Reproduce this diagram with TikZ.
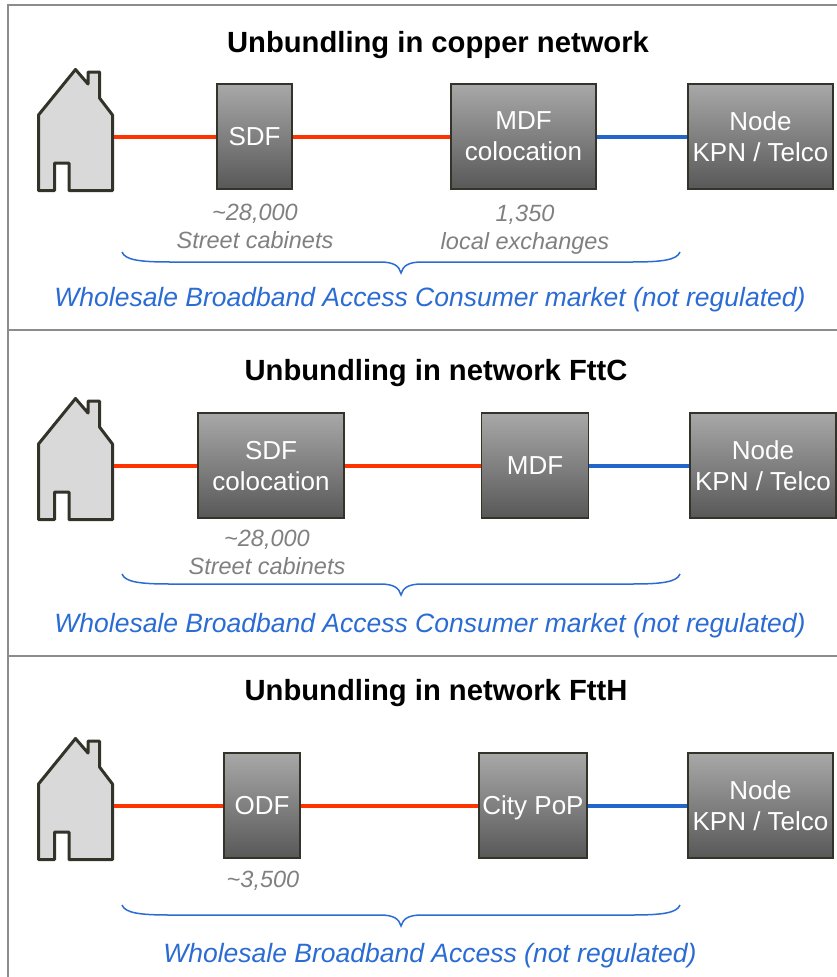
\documentclass[tikz,border=0pt]{standalone}
\usepackage{fontspec}
\setmainfont{Liberation Sans}
\definecolor{redln}{HTML}{FF3300}
\definecolor{blueln}{HTML}{2266CC}
\definecolor{bluetx}{HTML}{2B6CD4}
\definecolor{graytx}{HTML}{808080}
\definecolor{framec}{HTML}{8C8C8C}
\definecolor{boxedge}{HTML}{33332A}
\definecolor{boxtop}{HTML}{A8A8A8}
\definecolor{boxbot}{HTML}{585858}
\definecolor{housefill}{HTML}{D9D9D9}
\tikzset{
  box/.style={draw=boxedge, line width=1.5pt, top color=boxtop, bottom color=boxbot,
    text=white, font=\fontsize{26}{31}\selectfont, align=center, inner sep=0pt,
    minimum height=105pt, text depth=0pt},
  hnode/.style={draw=none, minimum width=77pt, minimum height=2pt, inner sep=0pt},
  ttl/.style={font=\bfseries\fontsize{29.2}{34}\selectfont, anchor=base, inner sep=0pt},
  graylbl/.style={font=\itshape\fontsize{23.5}{28}\selectfont, text=graytx, align=center, inner sep=0pt, text depth=0pt},
  bluelbl/.style={font=\itshape\fontsize{26.5}{31}\selectfont, text=bluetx, anchor=base, inner sep=0pt},
  redconn/.style={draw=redln, line width=4pt},
  blueconn/.style={draw=blueln, line width=4pt},
  framel/.style={draw=framec, line width=2pt},
  bracel/.style={draw=bluetx, line width=1.5pt},
  house/.pic={\draw[line width=3pt, draw=boxedge, fill=housefill, line join=round]
    (1.5,122.5) -- (1.5,47) -- (38.5,1.5) -- (51,16) -- (51,4) -- (62.5,4) -- (62.5,30)
    -- (75.5,47) -- (75.5,122.5) -- (32,122.5) -- (32,95) -- (17.5,95) -- (17.5,122.5) -- cycle;},
  brc/.pic={\draw[bracel] (0,0) .. controls (3,8) and (18,10) .. (48,10) -- (258,10)
    .. controls (272,10) and (277,14) .. (279,21) .. controls (281,14) and (286,10) .. (300,10)
    -- (510,10) .. controls (540,10) and (555,8) .. (558,0);}
}
\begin{document}
\begin{tikzpicture}[x=1pt,y=-1pt]
\useasboundingbox[fill=white] (0,0) rectangle (837,977);
% frame
\draw[framel] (8,977) -- (8,5) -- (837,5);
\draw[framel] (8,330) -- (837,330);
\draw[framel] (8,656) -- (837,656);

% ---------- panel 1 ----------
\node[ttl] (t1) at (438,52) {Unbundling in copper network};
\pic at (37,68) {house};
\node[hnode] (house1) at (75.5,136.5) {};
\node[box, minimum width=75pt] (sdf1) at (254.5,136.5) {SDF};
\node[box, minimum width=145pt] (mdf1) at (523.5,136.5) {MDF\\colocation};
\node[box, minimum width=145pt] (node1) at (760.5,136.5) {Node\\KPN / Telco};
\draw[redconn] (house1) -- (sdf1);
\draw[redconn] (sdf1) -- (mdf1);
\draw[blueconn] (mdf1) -- (node1);
\node[graylbl] (l1a) at (255,226.5) {\textasciitilde28,000\\Street cabinets};
\node[graylbl] (l1b) at (525,227.5) {1,350\\local exchanges};
\pic at (122,252) {brc};
\node[bluelbl] (b1) at (430,306) {Wholesale Broadband Access Consumer market (not regulated)};

% ---------- panel 2 ----------
\node[ttl] (t2) at (436,380) {Unbundling in network FttC};
\pic at (37,397) {house};
\node[hnode] (house2) at (75.5,465.5) {};
\node[box, minimum width=146pt] (sdf2) at (271,465.5) {SDF\\colocation};
\node[box, minimum width=107pt] (mdf2) at (535,465.5) {MDF};
\node[box, minimum width=146pt] (node2) at (763,465.5) {Node\\KPN / Telco};
\draw[redconn] (house2) -- (sdf2);
\draw[redconn] (sdf2) -- (mdf2);
\draw[blueconn] (mdf2) -- (node2);
\node[graylbl] (l2a) at (267,552) {\textasciitilde28,000\\Street cabinets};
\pic at (122,574) {brc};
\node[bluelbl] (b2) at (430,632) {Wholesale Broadband Access Consumer market (not regulated)};

% ---------- panel 3 ----------
\node[ttl] (t3) at (436,700) {Unbundling in network FttH};
\pic at (37,737) {house};
\node[hnode] (house3) at (75.5,805.5) {};
\node[box, minimum width=76pt] (odf3) at (262,805.5) {ODF};
\node[box, minimum width=108pt] (pop3) at (533,805.5) {City PoP};
\node[box, minimum width=145pt] (node3) at (760.5,805.5) {Node\\KPN / Telco};
\draw[redconn] (house3) -- (odf3);
\draw[redconn] (odf3) -- (pop3);
\draw[blueconn] (pop3) -- (node3);
\node[graylbl] (l3a) at (263,879) {\textasciitilde3,500};
\pic at (122,905) {brc};
\node[bluelbl] (b3) at (430,962.5) {Wholesale Broadband Access (not regulated)};
\end{tikzpicture}
\end{document}
